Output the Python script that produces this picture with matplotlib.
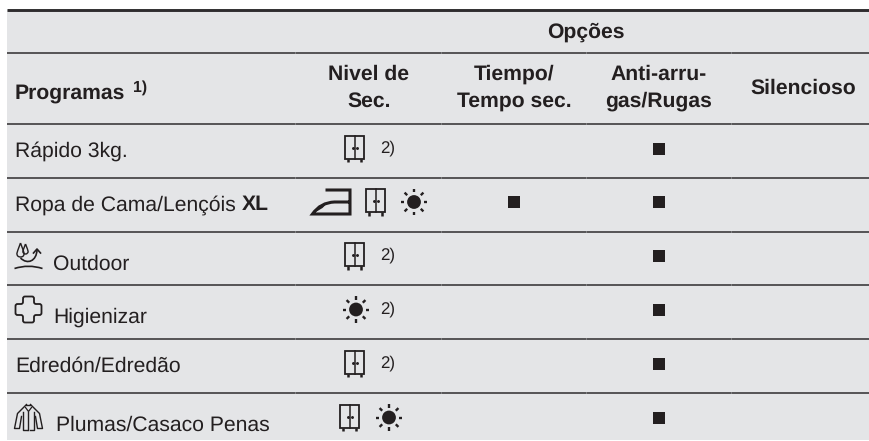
import matplotlib
matplotlib.use('Agg')
from matplotlib import pyplot as plt
from matplotlib.patches import Rectangle, Circle, Polygon, PathPatch
from matplotlib.path import Path
import numpy as np

plt.rcParams['font.family'] = ['Liberation Sans', 'DejaVu Sans']
plt.rcParams['text.hinting'] = 'none'

TEXT = '#231f20'
LINE = '#2e2c2e'
SEAM = '#8c8c8e'
FILL = '#e4e5e7'
FONT = 15.2

group_title = 'Opções'
first_header = 'Programas'
first_header_note = '1)'
option_headers = ['Nivel de\nSec.', 'Tiempo/\nTempo sec.', 'Anti-arru-\ngas/Rugas', 'Silencioso']
programs = ['Rápido 3kg.', 'Ropa de Cama/Lençóis', 'Outdoor', 'Higienizar', 'Edredón/Edredão', 'Plumas/Casaco Penas']
program_bold = ['', 'XL', '', '', '', '']
program_icons = [None, None, 'outdoor', 'cross', None, 'jacket']
dry_levels = [['cupboard'], ['iron', 'cupboard', 'sun'], ['cupboard'], ['sun'], ['cupboard'], ['cupboard', 'sun']]
dry_notes = ['2)', '', '2)', '2)', '2)', '']
time_option = [0, 1, 0, 0, 0, 0]
anti_crease = [1, 1, 1, 1, 1, 1]

# layout of the table, in pixels of the picture
row_lines = [53, 124, 177.5, 231.5, 285, 339, 393]
col_edges = [296, 441.5, 586.5, 731.5]
col_centers = [369, 514, 659, 803]
program_text_x = [15, 15, 53, 53.5, 15, 56]
dry_icon_x = [[355], [331.5, 376, 414], [355], [356], [355], [350, 389]]


def draw_cupboard(ax, x, y):
    ax.add_patch(Rectangle((x - 9.5, y - 13), 19, 23, fc='none', ec=TEXT, lw=1.3))
    ax.plot([x, x], [y - 13, y + 10], color=TEXT, lw=1.1)
    ax.plot([x - 6.5, x - 6.5], [y + 10, y + 13.5], color=TEXT, lw=1.8, solid_capstyle='butt')
    ax.plot([x + 6.5, x + 6.5], [y + 10, y + 13.5], color=TEXT, lw=1.8, solid_capstyle='butt')
    ax.plot([x - 2.2, x + 2.2], [y - 1, y - 1], ls='none', marker='o', ms=1.1, color=TEXT)


def draw_sun(ax, x, y):
    ax.add_patch(Circle((x, y), 6.9, fc=TEXT, ec='none'))
    for angle in np.arange(0, 360, 45):
        dx, dy = np.cos(np.radians(angle)), np.sin(np.radians(angle))
        ax.plot([x + 9.6 * dx, x + 13.3 * dx], [y + 9.6 * dy, y + 13.3 * dy], color=TEXT, lw=1.7,
                solid_capstyle='butt')


def draw_iron(ax, x, y):
    verts = [(x - 6, y - 12), (x + 18.5, y - 12), (x + 18.5, y + 12), (x - 19, y + 12),
             (x - 11, y + 0.5), (x + 3, y), (x + 18.5, y)]
    codes = [Path.MOVETO, Path.LINETO, Path.LINETO, Path.LINETO, Path.CURVE3, Path.CURVE3, Path.LINETO]
    ax.add_patch(PathPatch(Path(verts, codes), fc='none', ec=TEXT, lw=2.2, joinstyle='miter'))
    # the sole gets thicker towards the tip
    ax.add_patch(Polygon([(x - 19, y + 12), (x - 13, y + 4), (x - 4, y + 1), (x - 9, y + 6)], fc=TEXT, ec='none'))


def draw_drop(ax, x, top, bottom, half):
    mid = bottom - half
    verts = [(x, top), (x - half, mid - 1), (x - half, mid), (x - half, bottom), (x, bottom),
             (x + half, bottom), (x + half, mid), (x + half, mid - 1), (x, top)]
    codes = [Path.MOVETO, Path.CURVE3, Path.CURVE3, Path.CURVE3, Path.CURVE3,
             Path.CURVE3, Path.CURVE3, Path.CURVE3, Path.CURVE3]
    ax.add_patch(PathPatch(Path(verts, codes), fc='none', ec=TEXT, lw=1.0))


def draw_outdoor(ax, x, y):
    # two drops, an arrow and the ground line
    draw_drop(ax, x - 8, y - 13, y + 1, 3.6)
    draw_drop(ax, x - 3, y - 12, y - 2, 2.6)
    arc = Path([(x - 8, y + 2), (x - 1, y + 9), (x + 8, y + 5), (x + 8.5, y - 6)], [Path.MOVETO, Path.CURVE4, Path.CURVE4, Path.CURVE4])
    ax.add_patch(PathPatch(arc, fc='none', ec=TEXT, lw=1.2))
    ax.plot([x + 5, x + 8.5, x + 12], [y - 3, y - 7, y - 3], color=TEXT, lw=1.2)
    ground = Path([(x - 14, y + 12.5), (x, y + 8), (x + 14, y + 12.5)], [Path.MOVETO, Path.CURVE3, Path.CURVE3])
    ax.add_patch(PathPatch(ground, fc='none', ec=TEXT, lw=1.2))


def draw_cross(ax, x, y):
    a, b, r = 13, 5.5, 2
    pts = np.array([(-b, -a), (b, -a), (b, -b), (a, -b), (a, b), (b, b), (b, a), (-b, a),
                    (-b, b), (-a, b), (-a, -b), (-b, -b)], dtype=float)
    verts, codes = [], []
    for i, p in enumerate(pts):
        prev_p, next_p = pts[i - 1], pts[(i + 1) % len(pts)]
        start = p + (prev_p - p) / np.linalg.norm(prev_p - p) * r
        end = p + (next_p - p) / np.linalg.norm(next_p - p) * r
        verts += [start, p, end]
        codes += [Path.MOVETO if i == 0 else Path.LINETO, Path.CURVE3, Path.CURVE3]
    verts.append(verts[0])
    codes.append(Path.LINETO)
    shape = Path([(x + v[0], y + v[1]) for v in verts], codes)
    ax.add_patch(PathPatch(shape, fc='none', ec=TEXT, lw=1.3))


def draw_jacket(ax, x, y):
    for side in (-1, 1):
        ax.plot([x + side * 2, x + side * 5, x + side * 11, x + side * 14, x + side * 9, x + side * 7],
                [y - 13, y - 10, y - 4, y + 11, y + 11, y - 1], color=TEXT, lw=1.0)
        ax.plot([x + side * 5.5, x + side * 5.5, x + side * 1.5], [y - 6, y + 12, y + 12], color=TEXT, lw=1.0)
    ax.plot([x - 2, x + 2], [y - 13, y - 13], color=TEXT, lw=1.0)
    ax.plot([x - 3, x, x + 3], [y - 10, y - 6, y - 10], color=TEXT, lw=0.9)
    ax.plot([x, x], [y - 6, y + 12], color=TEXT, lw=1.0)


ICONS = dict(cupboard=draw_cupboard, sun=draw_sun, iron=draw_iron,
             outdoor=draw_outdoor, cross=draw_cross, jacket=draw_jacket)

fig = plt.figure(figsize=(8.7, 4.41), dpi=100)
ax = fig.add_axes([0, 0, 1, 1])
ax.set_xlim(0, 870)
ax.set_ylim(441, 0)
ax.axis('off')

ax.add_patch(Rectangle((7, 10), 863, 430, fc=FILL, ec='none'))
ax.plot([7, 870], [10, 10], color=LINE, lw=2.1, solid_capstyle='butt')
for line_y in row_lines:
    ax.plot([7, 870], [line_y, line_y], color=LINE, lw=1.1, solid_capstyle='butt')
    for edge in col_edges:
        ax.plot([edge - 0.5, edge + 0.5], [line_y, line_y], color=SEAM, lw=1.1, solid_capstyle='butt')

ax.text(586, 32.5, group_title, ha='center', va='center', fontsize=FONT, fontweight='bold', color=TEXT)
ax.text(15, 93, first_header, ha='left', va='center', fontsize=FONT, fontweight='bold', color=TEXT)
ax.text(133, 88, first_header_note, ha='left', va='center', fontsize=11.4, fontweight='bold', color=TEXT)
for center, label in zip(col_centers, option_headers):
    ax.text(center, 88, label, ha='center', va='center', fontsize=FONT, fontweight='bold', color=TEXT,
            linespacing=1.5)

fig.canvas.draw()
renderer = fig.canvas.get_renderer()
for i, name in enumerate(programs):
    top = row_lines[i + 1]
    icon_y = top + 24.5
    if program_icons[i]:
        ICONS[program_icons[i]](ax, 28.5, icon_y)
        text_y = top + 32.5
    else:
        text_y = top + 27.5
    label = ax.text(program_text_x[i], text_y, name, ha='left', va='center', fontsize=FONT, color=TEXT)
    if program_bold[i]:
        end = label.get_window_extent(renderer).x1
        ax.text(end + 6, text_y, program_bold[i], ha='left', va='center', fontsize=FONT, fontweight='bold', color=TEXT)

    for kind, icon_x in zip(dry_levels[i], dry_icon_x[i]):
        ICONS[kind](ax, icon_x, icon_y)
    if dry_notes[i]:
        ax.text(380, icon_y - 0.5, dry_notes[i], ha='left', va='center', fontsize=12.2, color=TEXT)

    if time_option[i]:
        ax.plot(col_centers[1], icon_y, marker='s', ms=8.6, mew=0, color=TEXT)
    if anti_crease[i]:
        ax.plot(col_centers[2], icon_y, marker='s', ms=8.6, mew=0, color=TEXT)

fig.savefig('out.png', dpi=100)
